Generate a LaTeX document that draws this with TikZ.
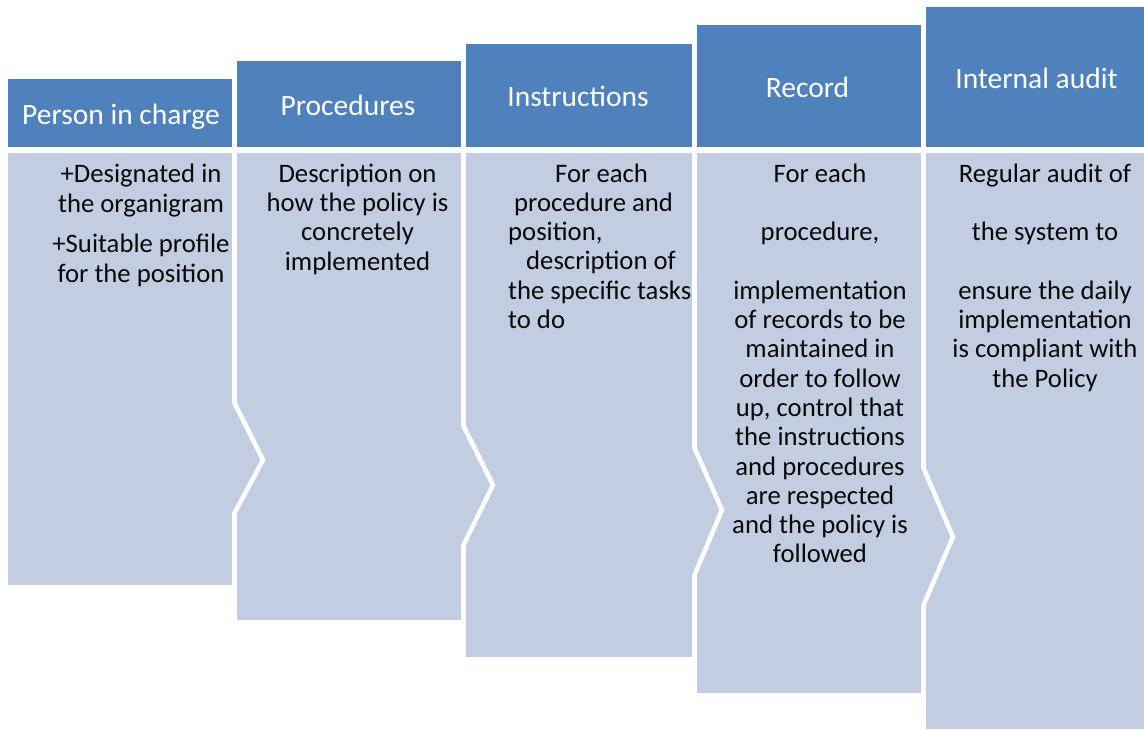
\documentclass[tikz,border=0pt]{standalone}
\usepackage{fontspec}
\setmainfont{Carlito}
\definecolor{headblue}{RGB}{79,129,189}
\definecolor{bodyblue}{RGB}{195,205,226}
\definecolor{inktext}{RGB}{8,8,8}
\begin{document}
\begin{tikzpicture}[x=1pt,y=-1pt,
  headbox/.style={fill=headblue,draw=none},
  bodybox/.style={fill=bodyblue,draw=none},
  gapline/.style={draw=white,line width=4.5pt,miter limit=10},
  headtext/.style={text=white,font=\fontsize{29.5}{33}\selectfont,anchor=base,inner sep=0pt},
  bodytext/.style={text=inktext,font=\fontsize{26.7}{29.3}\selectfont,anchor=base,inner sep=0pt},
  bodyleft/.style={bodytext,anchor=base west}]
\useasboundingbox (0,0) rectangle (1144,729);

% column headers (staircase)
\path[headbox] (8,79) rectangle (232,147);
\path[headbox] (237,61) rectangle (461,147);
\path[headbox] (466,44) rectangle (692,147);
\path[headbox] (697,25) rectangle (921,147);
\path[headbox] (926,7) rectangle (1144,147);

% column bodies
\path[bodybox] (8,153) rectangle (232,585);
\path[bodybox] (237,153) rectangle (461,620);
\path[bodybox] (466,153) rectangle (692,657);
\path[bodybox] (697,153) rectangle (921,693);
\path[bodybox] (926,153) rectangle (1144,729);

% chevron joints between neighbouring bodies
\foreach \xc/\ya/\px/\py/\yb in {234.5/403/263/460/513, 463.5/426/493/485/545,
                                 694.5/448/722/510/575, 923.5/468/953/537/605}{
  \path[bodybox] (\xc-3,\ya) rectangle (\xc+3,\yb);
  \draw[gapline] (\xc,\ya-3) -- (\xc,\ya) -- (\px,\py) -- (\xc,\yb) -- (\xc,\yb+3);
}

% header titles
\node[headtext] (h1) at (121,124) {Person in charge};
\node[headtext] (h2) at (348,115) {Procedures};
\node[headtext] (h3) at (578,106) {Instructions};
\node[headtext] (h4) at (807.5,97) {Record};
\node[headtext] (h5) at (1036.5,88) {Internal audit};

% body texts
\node[bodytext] (a1) at (141,182) {+Designated in};
\node[bodytext] (a2) at (141,212) {the organigram};
\node[bodytext] (a3) at (141,252) {+Suitable profile};
\node[bodytext] (a4) at (141,282) {for the position};

\foreach \t [count=\i] in {Description on, how the policy is, concretely, implemented}
  \node[bodytext] (b\i) at (357.5,{182+29.4*(\i-1)}) {\t};

\node[bodyleft] (c1) at (555,182) {For each};
\node[bodyleft] (c2) at (514,211.3) {procedure and};
\node[bodyleft] (c3) at (508,240.6) {position,};
\node[bodyleft] (c4) at (526,269.9) {description of};
\node[bodyleft] (c5) at (508,299.2) {the specific tasks};
\node[bodyleft] (c6) at (508,328.5) {to do};

\foreach \t [count=\i] in {For each, {}, {procedure,}, {}, implementation, of records to be,
    maintained in, order to follow, {up, control that}, the instructions,
    and procedures, are respected, and the policy is, followed}
  \node[bodytext] (d\i) at (820,{182+29.3*(\i-1)}) {\t};

\foreach \t [count=\i] in {Regular audit of, {}, the system to, {}, ensure the daily,
    implementation, is compliant with, the Policy}
  \node[bodytext] (e\i) at (1045,{182+29.3*(\i-1)}) {\t};
\end{tikzpicture}
\end{document}
